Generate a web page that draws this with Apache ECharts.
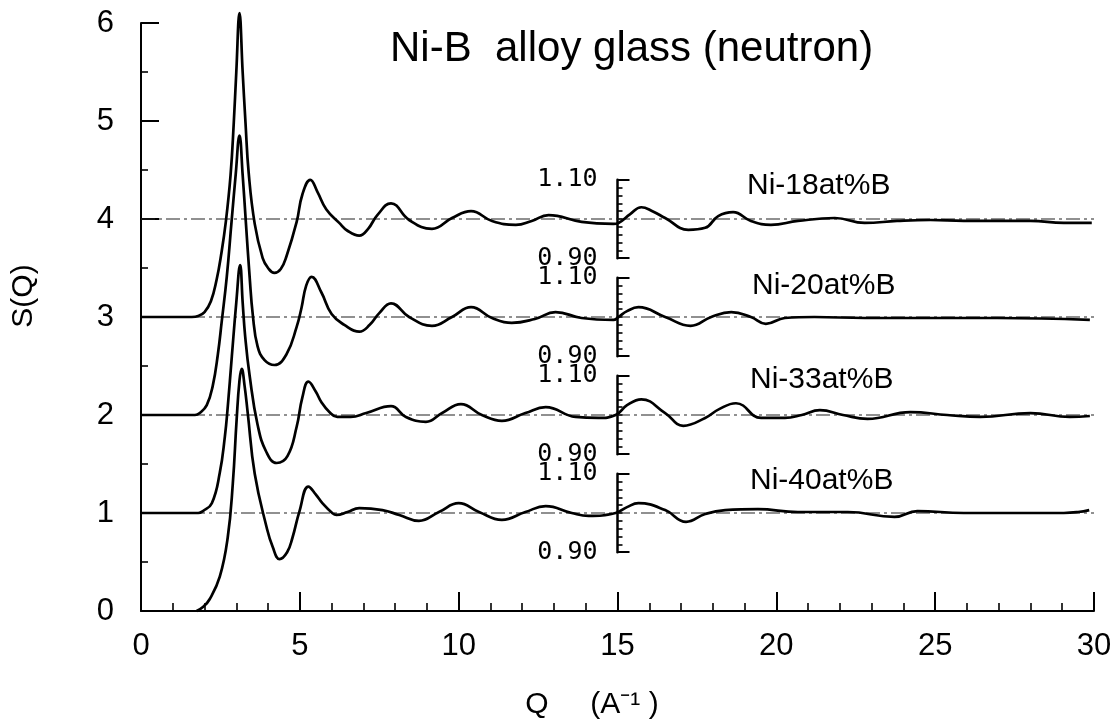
<!DOCTYPE html>
<html><head><meta charset="utf-8">
<script src="https://cdn.jsdelivr.net/npm/echarts@6/dist/echarts.min.js"></script>
<style>html,body{margin:0;padding:0;background:#fff}#c{width:1115px;height:728px}</style>
</head><body><div id="c"></div><script>
// ---- data (values as drawn, in S(Q) axis units; curves offset by +3,+2,+1,0; Q>15 shown x4) ----
const curveNames = ['Ni-18at%B', 'Ni-20at%B', 'Ni-33at%B', 'Ni-40at%B'];
const baselines = [4, 3, 2, 1];
const insetLabels = [0.90, 1.10];

const q18 = [0, 1.6, 1.8, 2.0, 2.2, 2.38, 2.52, 2.67, 2.82, 2.92, 3.0, 3.1, 3.2, 3.29, 3.39, 3.58, 3.83, 4.0, 4.2, 4.4, 4.58, 4.9, 5.08, 5.33, 5.55, 5.83, 6.24, 6.5, 6.87, 7.15, 7.44, 7.87, 8.44, 9.16, 9.79, 10.39, 11.05, 11.8, 12.3, 12.83, 13.87, 14.87, 15.03, 15.4, 15.75, 16.1, 16.5, 17.23, 17.76, 18.17, 18.64, 19.2, 19.83, 20.68, 21.84, 22.78, 23.8, 24.85, 25.9, 26.95, 28, 29.05, 29.93];
const s18 = [3, 3, 3.01, 3.05, 3.16, 3.38, 3.63, 3.97, 4.45, 4.98, 5.5, 6.1, 5.5, 4.98, 4.47, 3.95, 3.6, 3.5, 3.45, 3.49, 3.62, 3.97, 4.25, 4.4, 4.28, 4.1, 3.96, 3.88, 3.83, 3.9, 4.04, 4.16, 3.99, 3.9, 4.01, 4.08, 3.98, 3.94, 3.98, 4.04, 3.97, 3.95, 3.96, 4.05, 4.12, 4.08, 4.01, 3.89, 3.91, 4.03, 4.07, 3.98, 3.94, 3.98, 4.01, 3.96, 3.98, 3.99, 3.98, 3.98, 3.98, 3.96, 3.96];

const q20 = [0, 1.7, 1.85, 2.07, 2.26, 2.42, 2.54, 2.7, 2.85, 2.98, 3.1, 3.2, 3.3, 3.42, 3.52, 3.67, 3.89, 4.2, 4.58, 4.9, 5.05, 5.2, 5.37, 5.68, 6.0, 6.4, 6.87, 7.2, 7.5, 7.87, 8.44, 9.16, 9.79, 10.39, 11.05, 11.67, 12.4, 13.05, 13.87, 14.87, 15.03, 15.3, 15.66, 16.5, 17.3, 17.95, 18.58, 19.2, 19.67, 20.27, 21.2, 22.78, 24.85, 26.95, 29.87];
const s20 = [2, 2, 2.02, 2.1, 2.3, 2.62, 2.95, 3.41, 3.97, 4.45, 4.85, 4.45, 3.97, 3.41, 3.02, 2.7, 2.56, 2.51, 2.62, 2.9, 3.09, 3.32, 3.41, 3.25, 3.03, 2.92, 2.85, 2.92, 3.04, 3.14, 3.0, 2.91, 3.0, 3.1, 2.99, 2.94, 2.98, 3.05, 2.99, 2.97, 3.0, 3.06, 3.1, 3.0, 2.91, 3.0, 3.05, 3.0, 2.93, 2.99, 3.0, 2.99, 2.99, 2.99, 2.97];

const q33 = [0, 1.8, 1.95, 2.23, 2.48, 2.64, 2.73, 2.86, 3.0, 3.12, 3.2, 3.28, 3.42, 3.67, 3.95, 4.27, 4.61, 4.9, 5.08, 5.27, 5.5, 5.68, 5.93, 6.18, 6.6, 7.09, 7.87, 8.34, 8.97, 9.48, 10.07, 10.73, 11.36, 12.1, 12.74, 13.68, 14.4, 14.94, 15.3, 15.75, 16.5, 17.07, 17.76, 18.2, 18.73, 19.52, 20.27, 20.8, 21.37, 22.1, 22.87, 24.22, 25.38, 26.42, 28, 29.24, 29.87];
const s33 = [1, 1, 1.02, 1.1, 1.41, 1.78, 2.08, 2.6, 3.15, 3.53, 3.15, 2.8, 2.4, 1.9, 1.62, 1.51, 1.58, 1.88, 2.18, 2.34, 2.24, 2.13, 2.03, 1.98, 1.98, 2.02, 2.09, 1.98, 1.93, 2.02, 2.11, 2.0, 1.94, 2.02, 2.08, 1.98, 1.97, 2.0, 2.1, 2.16, 2.02, 1.89, 1.97, 2.06, 2.12, 1.97, 1.97, 2.0, 2.05, 2.0, 1.96, 2.03, 2.0, 1.98, 2.02, 1.98, 1.99];

const q40 = [1.75, 1.95, 2.16, 2.48, 2.73, 2.89, 3.01, 3.1, 3.17, 3.26, 3.36, 3.58, 3.95, 4.15, 4.36, 4.6, 4.77, 4.99, 5.27, 5.5, 5.71, 6.02, 6.15, 6.5, 6.87, 7.6, 8.13, 8.75, 9.38, 10.0, 10.64, 11.36, 12.1, 12.74, 13.56, 14.09, 14.94, 15.3, 15.66, 16.5, 17.16, 17.76, 18.39, 19.42, 20.68, 22.25, 23.72, 24.44, 25.9, 27.5, 29.05, 29.5, 29.85];
const s40 = [0, 0.04, 0.12, 0.35, 0.75, 1.3, 1.95, 2.35, 2.47, 2.3, 2.02, 1.4, 0.86, 0.65, 0.53, 0.6, 0.75, 1.02, 1.27, 1.19, 1.1, 1.0, 0.98, 1.01, 1.05, 1.03, 0.98, 0.92, 1.01, 1.1, 1.01, 0.93, 1.01, 1.07, 1.0, 0.97, 1.0, 1.06, 1.1, 1.03, 0.91, 0.99, 1.03, 1.04, 1.01, 1.01, 0.96, 1.02, 1.0, 1.0, 1.0, 1.01, 1.03];

const curvesQ = [q18, q20, q33, q40];
const curvesS = [s18, s20, s33, s40];

// ---- layout ----
const L = 141, W = 953, T = 23, H = 588, XMAX = 30, YMAX = 6;
const INSET_Q = 15, INSET_HALF = 0.4;
const FONT = 'Liberation Sans';

const grids = [{left: L, top: T, width: W, height: H}];
const xAxes = [{
  type: 'value', gridIndex: 0, min: 0, max: XMAX, interval: 5,
  axisLine: {lineStyle: {color: '#000', width: 2}},
  axisTick: {inside: true, length: 19, lineStyle: {color: '#000', width: 2}},
  minorTick: {show: true, splitNumber: 5, length: 8, lineStyle: {color: '#000', width: 1.6}},
  axisLabel: {color: '#000', fontFamily: FONT, fontSize: 31, margin: 20},
  splitLine: {show: false}
}];
const yAxes = [{
  type: 'value', gridIndex: 0, min: 0, max: YMAX, interval: 1,
  axisLine: {show: true, lineStyle: {color: '#000', width: 2}},
  axisTick: {show: true, inside: true, length: 18, lineStyle: {color: '#000', width: 2}},
  minorTick: {show: true, splitNumber: 2, length: 7, lineStyle: {color: '#000', width: 1.6}},
  axisLabel: {color: '#000', fontFamily: FONT, fontSize: 31, margin: 27},
  splitLine: {show: false}
}];

baselines.forEach((b, i) => {
  const top = T + (YMAX - (b + INSET_HALF)) / YMAX * H;
  grids.push({left: L + INSET_Q / XMAX * W, top: top, width: 20, height: 2 * INSET_HALF / YMAX * H});
  xAxes.push({type: 'value', gridIndex: i + 1, show: false, min: 0, max: 1});
  yAxes.push({
    type: 'value', gridIndex: i + 1, min: insetLabels[0], max: insetLabels[1], interval: 0.2,
    axisLine: {show: true, lineStyle: {color: '#000', width: 2.5}},
    axisTick: {show: true, inside: true, length: 12, lineStyle: {color: '#000', width: 2}},
    minorTick: {show: true, splitNumber: 10, length: 5, lineStyle: {color: '#000', width: 1.6}},
    axisLabel: {color: '#000', fontFamily: 'DejaVu Sans Mono', fontSize: 25, margin: 20,
      formatter: v => v.toFixed(2)},
    splitLine: {show: false}
  });
});

const series = [];
baselines.forEach(b => {
  series.push({
    type: 'line', xAxisIndex: 0, yAxisIndex: 0, showSymbol: false, silent: true,
    data: [[0, b], [XMAX, b]],
    lineStyle: {color: '#222', width: 1.2, type: [14, 4, 3, 4]}
  });
});
curveNames.forEach((name, i) => {
  series.push({
    name: name, type: 'line', xAxisIndex: 0, yAxisIndex: 0, showSymbol: false,
    smooth: 0.45, clip: false,
    data: curvesQ[i].map((q, k) => [q, curvesS[i][k]]),
    lineStyle: {color: '#000', width: 2.7}
  });
});

const labelPos = [[747, 186], [752, 286], [750, 380], [750, 481]];
const graphic = [
  {type: 'text', x: 390, y: 49,
   style: {text: 'Ni-B  alloy glass (neutron)', font: '42px "Liberation Sans"', fill: '#000', align: 'left', verticalAlign: 'middle'}},
  {type: 'text', x: 24, y: 296, rotation: Math.PI / 2,
   style: {text: 'S(Q)', font: '30px "Liberation Sans"', fill: '#000', align: 'center', verticalAlign: 'middle'}},
  {type: 'text', x: 592, y: 705,
   style: {text: 'Q     (A\u207B\u00B9 )', font: '30px "Liberation Sans"', fill: '#000', align: 'center', verticalAlign: 'middle'}}
];
curveNames.forEach((name, i) => {
  graphic.push({type: 'text', x: labelPos[i][0], y: labelPos[i][1],
    style: {text: name, font: '30px "Liberation Sans"', fill: '#000', align: 'left', verticalAlign: 'middle'}});
});

const chart = echarts.init(document.getElementById('c'), null, {renderer: 'canvas'});
chart.setOption({
  animation: false,
  backgroundColor: '#fff',
  grid: grids, xAxis: xAxes, yAxis: yAxes, series: series, graphic: graphic
});
</script></body></html>
